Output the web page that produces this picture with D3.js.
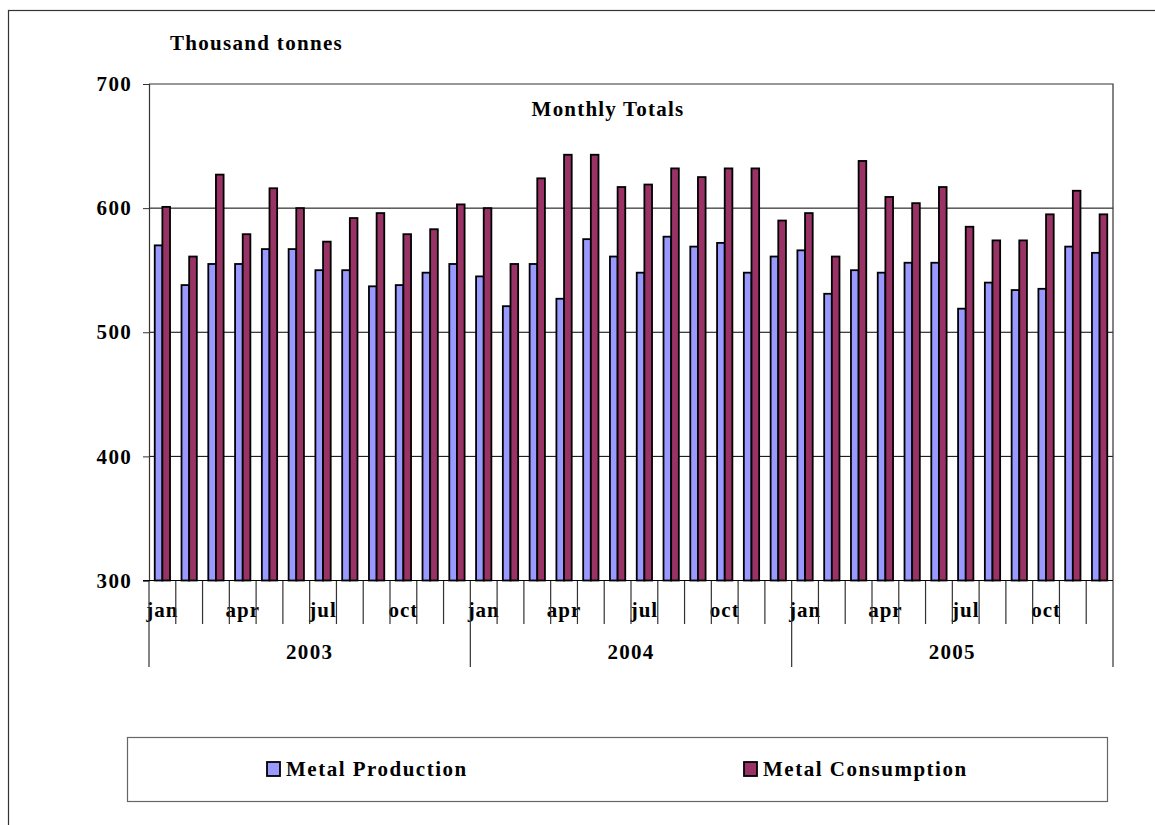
<!DOCTYPE html>
<html lang="en">
	<head>
		<meta charset="utf-8">
		<title>Monthly Totals</title>
		<script src="https://d3js.org/d3.v7.min.js"></script>
		<style>
			body{
				margin: 0;
				background: #fff;
			}
			text{
				font-family: 'Liberation Serif', 'Times New Roman', serif;
				font-weight: bold;
				fill: #000;
			}
		</style>
	</head>
	<body>
		<script>
			//Width and height
			var w = 1155;
			var h = 825;

			//Data (thousand tonnes)
			var years = ["2003", "2004", "2005"];
			var monthLabels = ["jan", "", "", "apr", "", "", "jul", "", "", "oct", "", ""];
			var yTicks = [300, 400, 500, 600, 700];

			var production = [
				570, 538, 555, 555, 567, 567, 550, 550, 537, 538, 548, 555, //2003
				545, 521, 555, 527, 575, 561, 548, 577, 569, 572, 548, 561, //2004
				566, 531, 550, 548, 556, 556, 519, 540, 534, 535, 569, 564  //2005
			];
			var consumption = [
				601, 561, 627, 579, 616, 600, 573, 592, 596, 579, 583, 603, //2003
				600, 555, 624, 643, 643, 617, 619, 632, 625, 632, 632, 590, //2004
				596, 561, 638, 609, 604, 617, 585, 574, 574, 595, 614, 595  //2005
			];
			var seriesNames = ["Metal Production", "Metal Consumption"];
			var seriesColors = ["#9999ff", "#993366"];

			//plot area
			var plotL = 149, plotR = 1113, plotT = 84, plotB = 580.5;

			//build rows: one per month
			var rows = production.map(function(p, i) {
				return {i: i, year: years[Math.floor(i / 12)], month: monthLabels[i % 12], values: [p, consumption[i]]};
			});

			//Create scale functions
			var xScale = d3.scaleBand()
							.domain(d3.range(rows.length))
							.range([plotL, plotR])
							.padding(0);

			var sScale = d3.scaleBand()
							.domain([0, 1])
							.range([0, xScale.bandwidth()])
							.paddingInner(0)
							.paddingOuter(0.75);

			var yScale = d3.scaleLinear()
							.domain([300, 700])
							.range([plotB, plotT]);

			//Create SVG element
			var svg = d3.select("body")
						.append("svg")
						.attr("width", w)
						.attr("height", h);

			//outer border
			svg.append("rect")
				.attr("x", 8.5)
				.attr("y", 10.5)
				.attr("width", 1170)
				.attr("height", 840)
				.attr("fill", "none")
				.attr("stroke", "#333")
				.attr("stroke-width", 1.2);

			//gridlines
			svg.append("g")
				.selectAll("line")
				.data(yTicks.slice(1, 4))
				.enter()
				.append("line")
				.attr("x1", plotL)
				.attr("x2", plotR)
				.attr("y1", function(d) { return yScale(d); })
				.attr("y2", function(d) { return yScale(d); })
				.attr("stroke", "#000")
				.attr("stroke-width", 1);

			//plot border (top, right)
			svg.append("path")
				.attr("d", "M" + plotL + "," + plotT + "H" + plotR + "V" + plotB)
				.attr("fill", "none")
				.attr("stroke", "#333")
				.attr("stroke-width", 1.2);

			//Create bars
			var groups = svg.append("g")
				.selectAll("g")
				.data(rows)
				.enter()
				.append("g")
				.attr("transform", function(d) { return "translate(" + xScale(d.i) + ",0)"; });

			groups.selectAll("rect")
				.data(function(d) { return d.values; })
				.enter()
				.append("rect")
				.attr("x", function(d, j) { return sScale(j); })
				.attr("y", function(d) { return yScale(d); })
				.attr("width", sScale.bandwidth())
				.attr("height", function(d) { return plotB - yScale(d); })
				.attr("fill", function(d, j) { return seriesColors[j]; })
				.attr("stroke", "#000")
				.attr("stroke-width", 1.8);

			//Y-AXIS
			var yAxis = d3.axisLeft(yScale)
							.tickValues(yTicks)
							.tickSize(6)
							.tickPadding(11);

			var yG = svg.append("g")
				.attr("transform", "translate(" + plotL + ",0)")
				.call(yAxis);
			yG.select(".domain").attr("stroke", "#333").attr("stroke-width", 1.2);
			yG.selectAll(".tick line").attr("stroke", "#333");
			yG.selectAll("text")
				.attr("font-size", "21px")
				.attr("letter-spacing", "1.3px")
				.attr("font-family", "'Liberation Serif', serif");

			//X-AXIS (months)
			var xAxis = d3.axisBottom(xScale)
							.tickFormat(function(d) { return rows[d].month; })
							.tickSize(0)
							.tickPadding(0);

			var xG = svg.append("g")
				.attr("transform", "translate(0," + plotB + ")")
				.call(xAxis);
			xG.select(".domain").remove();
			xG.selectAll("text")
				.attr("y", 36)
				.attr("dy", 0)
				.attr("font-size", "21px")
				.attr("letter-spacing", "1px")
				.attr("font-family", "'Liberation Serif', serif");

			//month separators
			svg.append("g")
				.selectAll("line")
				.data(d3.range(rows.length + 1))
				.enter()
				.append("line")
				.attr("x1", function(d) { return d < rows.length ? xScale(d) : plotR; })
				.attr("x2", function(d) { return d < rows.length ? xScale(d) : plotR; })
				.attr("y1", plotB)
				.attr("y2", function(d) { return d % 12 === 0 ? 667 : 624; })
				.attr("stroke", "#333")
				.attr("stroke-width", 1.2);

			//bottom axis line
			svg.append("line")
				.attr("x1", plotL - 6)
				.attr("x2", plotR)
				.attr("y1", plotB)
				.attr("y2", plotB)
				.attr("stroke", "#000")
				.attr("stroke-width", 1.2);

			//year labels
			svg.append("g")
				.selectAll("text")
				.data(years)
				.enter()
				.append("text")
				.attr("x", function(d, k) { return (xScale(k * 12) + (k < 2 ? xScale(k * 12 + 12) : plotR)) / 2; })
				.attr("y", 659)
				.attr("text-anchor", "middle")
				.attr("font-size", "21px")
				.attr("letter-spacing", "1.3px")
				.text(function(d) { return d; });

			//unit label and title
			svg.append("text")
				.attr("x", 170)
				.attr("y", 50)
				.attr("font-size", "21px")
				.attr("letter-spacing", "1.3px")
				.text("Thousand tonnes");

			svg.append("text")
				.attr("x", 608)
				.attr("y", 116)
				.attr("text-anchor", "middle")
				.attr("font-size", "21px")
				.attr("letter-spacing", "1.2px")
				.text("Monthly Totals");

			//LEGEND
			svg.append("rect")
				.attr("x", 127.5)
				.attr("y", 737.5)
				.attr("width", 980)
				.attr("height", 64)
				.attr("fill", "#fff")
				.attr("stroke", "#666")
				.attr("stroke-width", 1.2);

			var legendX = [267, 744];
			var legend = svg.append("g")
				.selectAll("g")
				.data(seriesNames)
				.enter()
				.append("g")
				.attr("transform", function(d, j) { return "translate(" + legendX[j] + ",762)"; });

			legend.append("rect")
				.attr("width", 13)
				.attr("height", 14)
				.attr("fill", function(d, j) { return seriesColors[j]; })
				.attr("stroke", "#000")
				.attr("stroke-width", 1.8);

			legend.append("text")
				.attr("x", 19)
				.attr("y", 14)
				.attr("font-size", "21px")
				.attr("letter-spacing", "1.5px")
				.text(function(d) { return d; });
		</script>
	</body>
</html>
